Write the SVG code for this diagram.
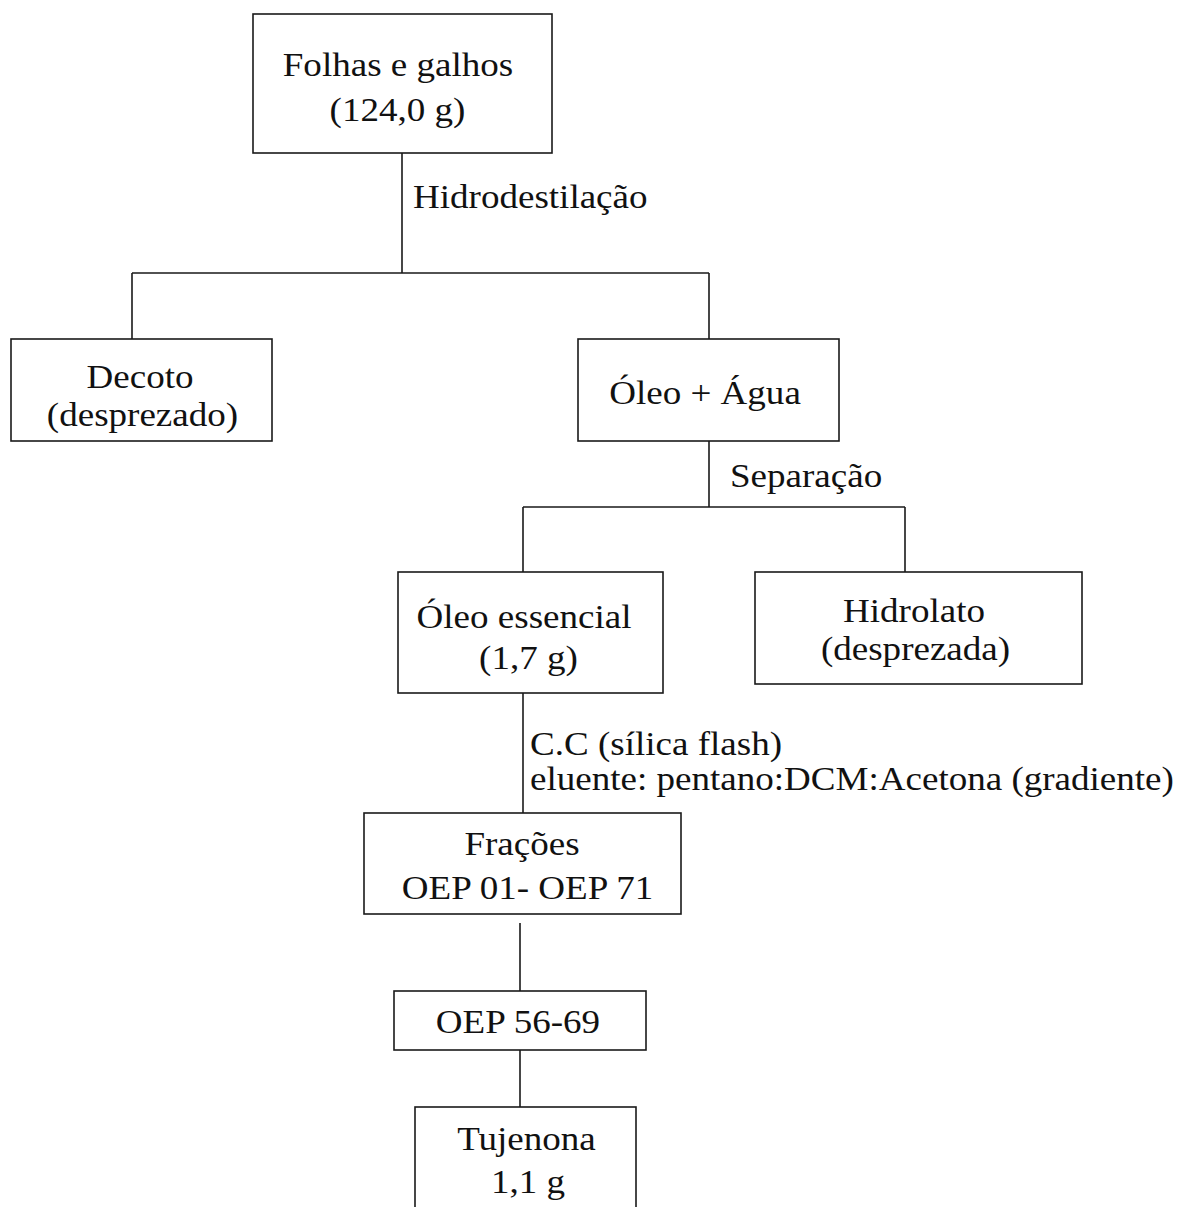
<svg xmlns="http://www.w3.org/2000/svg" width="1182" height="1207" viewBox="0 0 1182 1207">
  <style>
    .box { fill: #ffffff; stroke: #1a1a1a; stroke-width: 1.6; }
    .wire { fill: none; stroke: #1a1a1a; stroke-width: 1.6; }
  </style>
  <rect width="1182" height="1207" fill="#ffffff"/>

  <!-- connectors -->
  <g id="connectors">
    <path class="wire" d="M402 153 V273 M132 273 H709 M132 273 V339 M709 273 V339"/>
    <path class="wire" d="M709 441 V507 M523 507 H905 M523 507 V572 M905 507 V572"/>
    <path class="wire" d="M523 693 V813"/>
    <path class="wire" d="M520 923 V991 M520 1050 V1107"/>
  </g>

  <!-- step labels (glyphs slightly widened, as in the source layout) -->
  <g id="labels">
    <text font-family="Liberation Serif" font-size="34" fill="#111" transform="translate(413 208) scale(1.09 1)">Hidrodestilação</text>
    <text font-family="Liberation Serif" font-size="34" fill="#111" transform="translate(730 487) scale(1.09 1)">Separação</text>
    <text font-family="Liberation Serif" font-size="34" fill="#111" transform="translate(530 755) scale(1.09 1)">C.C (sílica flash)</text>
    <text font-family="Liberation Serif" font-size="34" fill="#111" transform="translate(530 790) scale(1.09 1)">eluente: pentano:DCM:Acetona (gradiente)</text>
  </g>

  <g id="folhas">
    <rect class="box" x="253" y="14" width="299" height="139"/>
    <text font-family="Liberation Serif" font-size="34" fill="#111" text-anchor="middle" transform="translate(398 76) scale(1.09 1)">Folhas e galhos</text>
    <text font-family="Liberation Serif" font-size="34" fill="#111" text-anchor="middle" transform="translate(397.5 121) scale(1.09 1)">(124,0 g)</text>
  </g>

  <g id="decoto">
    <rect class="box" x="11" y="339" width="261" height="102"/>
    <text font-family="Liberation Serif" font-size="34" fill="#111" text-anchor="middle" transform="translate(140 388) scale(1.09 1)">Decoto</text>
    <text font-family="Liberation Serif" font-size="34" fill="#111" text-anchor="middle" transform="translate(142.5 426) scale(1.09 1)">(desprezado)</text>
  </g>

  <g id="oleo-agua">
    <rect class="box" x="578" y="339" width="261" height="102"/>
    <text font-family="Liberation Serif" font-size="34" fill="#111" text-anchor="middle" transform="translate(705 404) scale(1.09 1)">Óleo + Água</text>
  </g>

  <g id="oleo-essencial">
    <rect class="box" x="398" y="572" width="265" height="121"/>
    <text font-family="Liberation Serif" font-size="34" fill="#111" text-anchor="middle" transform="translate(524 628) scale(1.09 1)">Óleo essencial</text>
    <text font-family="Liberation Serif" font-size="34" fill="#111" text-anchor="middle" transform="translate(528.5 669) scale(1.09 1)">(1,7 g)</text>
  </g>

  <g id="hidrolato">
    <rect class="box" x="755" y="572" width="327" height="112"/>
    <text font-family="Liberation Serif" font-size="34" fill="#111" text-anchor="middle" transform="translate(914 622) scale(1.09 1)">Hidrolato</text>
    <text font-family="Liberation Serif" font-size="34" fill="#111" text-anchor="middle" transform="translate(915.5 660) scale(1.09 1)">(desprezada)</text>
  </g>

  <g id="fracoes">
    <rect class="box" x="364" y="813" width="317" height="101"/>
    <text font-family="Liberation Serif" font-size="34" fill="#111" text-anchor="middle" transform="translate(522 855) scale(1.09 1)">Frações</text>
    <text font-family="Liberation Serif" font-size="34" fill="#111" text-anchor="middle" transform="translate(527.5 899) scale(1.09 1)">OEP 01- OEP 71</text>
  </g>

  <g id="oep-56-69">
    <rect class="box" x="394" y="991" width="252" height="59"/>
    <text font-family="Liberation Serif" font-size="34" fill="#111" text-anchor="middle" transform="translate(518 1033) scale(1.09 1)">OEP 56-69</text>
  </g>

  <g id="tujenona">
    <rect class="box" x="415" y="1107" width="221" height="110"/>
    <text font-family="Liberation Serif" font-size="34" fill="#111" text-anchor="middle" transform="translate(526.5 1150) scale(1.09 1)">Tujenona</text>
    <text font-family="Liberation Serif" font-size="34" fill="#111" text-anchor="middle" transform="translate(528 1193) scale(1.09 1)">1,1 g</text>
  </g>
</svg>
